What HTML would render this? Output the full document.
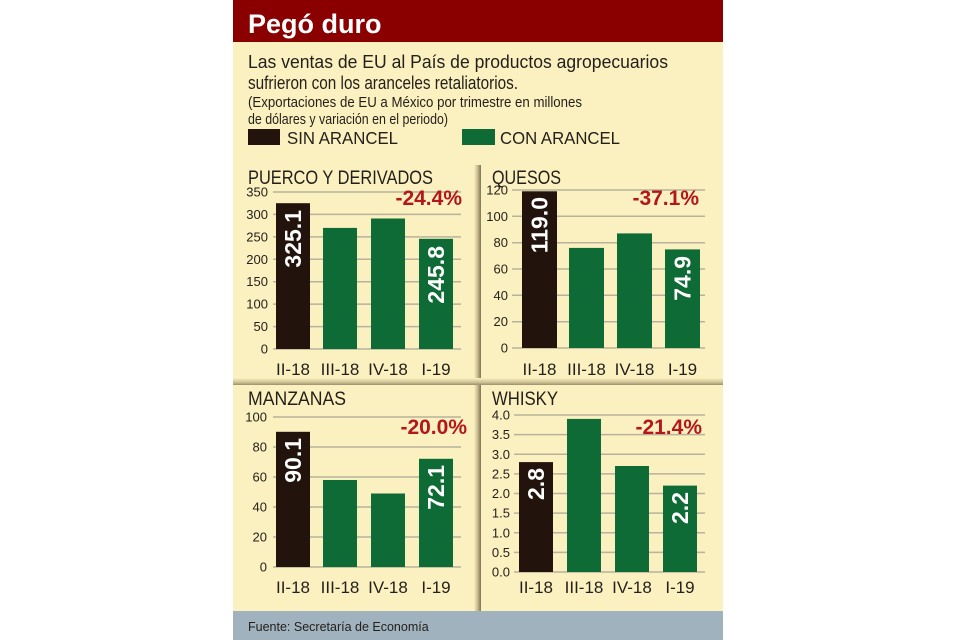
<!DOCTYPE html>
<html><head><meta charset="utf-8"><style>
html,body{margin:0;padding:0;background:#fff;}
svg{display:block;font-family:"Liberation Sans",sans-serif;}
</style></head><body>
<svg width="960" height="640" viewBox="0 0 960 640" xmlns="http://www.w3.org/2000/svg">
<defs>
<linearGradient id="vs" x1="0" x2="1" y1="0" y2="0"><stop offset="0" stop-color="#fbf0c0"/><stop offset="0.5" stop-color="#c9bc8e"/><stop offset="1" stop-color="#7d7458"/></linearGradient>
<linearGradient id="hs" x1="0" x2="0" y1="0" y2="1"><stop offset="0" stop-color="#fbf0c0"/><stop offset="0.6" stop-color="#cfc395"/><stop offset="1" stop-color="#9a8f6d"/></linearGradient>
</defs>
<rect x="0" y="0" width="960" height="640" fill="#fff"/>
<rect x="233" y="0" width="490" height="640" fill="#fbf0c0"/>
<rect x="233" y="0" width="490" height="42" fill="#8a0000"/>
<text x="248" y="33" font-size="27" font-weight="bold" fill="#fff">Pegó duro</text>
<text x="248" y="68" font-size="18.5" fill="#231f1a" textLength="420" lengthAdjust="spacingAndGlyphs">Las ventas de EU al País de productos agropecuarios</text>
<text x="248" y="89" font-size="18.5" fill="#231f1a" textLength="270" lengthAdjust="spacingAndGlyphs">sufrieron con los aranceles retaliatorios.</text>
<text x="248" y="107" font-size="14.5" fill="#231f1a" textLength="334" lengthAdjust="spacingAndGlyphs">(Exportaciones de EU a México por trimestre en millones</text>
<text x="248" y="124" font-size="14.5" fill="#231f1a" textLength="200" lengthAdjust="spacingAndGlyphs">de dólares y variación en el periodo)</text>
<rect x="248" y="129" width="32" height="16" fill="#22130d"/>
<text x="287" y="144" font-size="17.5" fill="#231f1a" textLength="111" lengthAdjust="spacingAndGlyphs">SIN ARANCEL</text>
<rect x="462" y="129" width="33" height="16" fill="#0f6b35"/>
<text x="500" y="144" font-size="17.5" fill="#231f1a" textLength="120" lengthAdjust="spacingAndGlyphs">CON ARANCEL</text>
<!-- separators -->
<rect x="474" y="165" width="7" height="446" fill="url(#vs)"/>
<rect x="233" y="378" width="490" height="7" fill="url(#hs)"/>
<rect x="233" y="611" width="490" height="29" fill="#9fb2bd"/>
<text x="248" y="631" font-size="12.5" fill="#231f1a">Fuente: Secretaría de Economía</text>

<g stroke="#b8b29c" stroke-width="1.5">
<!-- A -->
<line x1="273" x2="461" y1="192" y2="192"/><line x1="273" x2="461" y1="214.4" y2="214.4"/><line x1="273" x2="461" y1="236.9" y2="236.9"/><line x1="273" x2="461" y1="259.3" y2="259.3"/><line x1="273" x2="461" y1="281.7" y2="281.7"/><line x1="273" x2="461" y1="304.1" y2="304.1"/><line x1="273" x2="461" y1="326.6" y2="326.6"/><line x1="273" x2="461" y1="349" y2="349"/>
<!-- B -->
<line x1="512" x2="705" y1="190" y2="190"/><line x1="512" x2="705" y1="216.3" y2="216.3"/><line x1="512" x2="705" y1="242.7" y2="242.7"/><line x1="512" x2="705" y1="269" y2="269"/><line x1="512" x2="705" y1="295.3" y2="295.3"/><line x1="512" x2="705" y1="321.7" y2="321.7"/><line x1="512" x2="705" y1="348" y2="348"/>
<!-- C -->
<line x1="273" x2="461" y1="417" y2="417"/><line x1="273" x2="461" y1="447" y2="447"/><line x1="273" x2="461" y1="477" y2="477"/><line x1="273" x2="461" y1="507" y2="507"/><line x1="273" x2="461" y1="537" y2="537"/><line x1="273" x2="461" y1="567" y2="567"/>
<!-- D -->
<line x1="514" x2="705" y1="415" y2="415"/><line x1="514" x2="705" y1="434.6" y2="434.6"/><line x1="514" x2="705" y1="454.25" y2="454.25"/><line x1="514" x2="705" y1="473.9" y2="473.9"/><line x1="514" x2="705" y1="493.5" y2="493.5"/><line x1="514" x2="705" y1="513.1" y2="513.1"/><line x1="514" x2="705" y1="532.75" y2="532.75"/><line x1="514" x2="705" y1="552.4" y2="552.4"/><line x1="514" x2="705" y1="572" y2="572"/>
</g>

<g fill="#231f1a" font-size="19">
<text x="248" y="184" textLength="185" lengthAdjust="spacingAndGlyphs">PUERCO Y DERIVADOS</text>
<text x="492" y="184" textLength="69" lengthAdjust="spacingAndGlyphs">QUESOS</text>
<text x="248" y="405" textLength="98" lengthAdjust="spacingAndGlyphs">MANZANAS</text>
<text x="492" y="405" textLength="66" lengthAdjust="spacingAndGlyphs">WHISKY</text>
</g>

<g fill="#231f1a" font-size="13" text-anchor="end" dominant-baseline="central">
<text x="268" y="192">350</text><text x="268" y="214.4">300</text><text x="268" y="236.9">250</text><text x="268" y="259.3">200</text><text x="268" y="281.7">150</text><text x="268" y="304.1">100</text><text x="268" y="326.6">50</text><text x="268" y="349">0</text>
<text x="508" y="190">120</text><text x="508" y="216.3">100</text><text x="508" y="242.7">80</text><text x="508" y="269">60</text><text x="508" y="295.3">40</text><text x="508" y="321.7">20</text><text x="508" y="348">0</text>
<text x="267" y="417">100</text><text x="267" y="447">80</text><text x="267" y="477">60</text><text x="267" y="507">40</text><text x="267" y="537">20</text><text x="267" y="567">0</text>
<text x="510" y="415">4.0</text><text x="510" y="434.6">3.5</text><text x="510" y="454.25">3.0</text><text x="510" y="473.9">2.5</text><text x="510" y="493.5">2.0</text><text x="510" y="513.1">1.5</text><text x="510" y="532.75">1.0</text><text x="510" y="552.4">0.5</text><text x="510" y="572">0.0</text>
</g>

<!-- bars -->
<rect x="276" y="203.2" width="34" height="145.8" fill="#22130d"/>
<rect x="323" y="227.9" width="34" height="121.1" fill="#0f6b35"/>
<rect x="371" y="218.5" width="34" height="130.5" fill="#0f6b35"/>
<rect x="419" y="238.8" width="34" height="110.2" fill="#0f6b35"/>

<rect x="522" y="191.3" width="35" height="156.7" fill="#22130d"/>
<rect x="569" y="247.9" width="35" height="100.1" fill="#0f6b35"/>
<rect x="617" y="233.4" width="35" height="114.6" fill="#0f6b35"/>
<rect x="665" y="249.4" width="35" height="98.6" fill="#0f6b35"/>

<rect x="276" y="431.8" width="34" height="135.2" fill="#22130d"/>
<rect x="323" y="480" width="34" height="87" fill="#0f6b35"/>
<rect x="371" y="493.5" width="34" height="73.5" fill="#0f6b35"/>
<rect x="419" y="458.8" width="34" height="108.2" fill="#0f6b35"/>

<rect x="519" y="462.1" width="34" height="109.9" fill="#22130d"/>
<rect x="567" y="418.9" width="34" height="153.1" fill="#0f6b35"/>
<rect x="615" y="466" width="34" height="106" fill="#0f6b35"/>
<rect x="663" y="485.6" width="34" height="86.4" fill="#0f6b35"/>

<g fill="#fff" font-size="23" font-weight="bold" text-anchor="end" dominant-baseline="central">
<text transform="translate(293,210) rotate(-90)">325.1</text>
<text transform="translate(436,246) rotate(-90)">245.8</text>
<text transform="translate(539.5,197) rotate(-90)">119.0</text>
<text transform="translate(682.5,256) rotate(-90)">74.9</text>
<text transform="translate(293,438) rotate(-90)">90.1</text>
<text transform="translate(436,465) rotate(-90)">72.1</text>
<text transform="translate(536,468) rotate(-90)">2.8</text>
<text transform="translate(680,492) rotate(-90)">2.2</text>
</g>

<g fill="#b3161b" font-size="21" font-weight="bold" text-anchor="end">
<text x="462" y="205">-24.4%</text>
<text x="699" y="205">-37.1%</text>
<text x="467" y="434">-20.0%</text>
<text x="702" y="434">-21.4%</text>
</g>

<g fill="#231f1a" font-size="17" text-anchor="middle">
<text x="293" y="375">II-18</text><text x="340" y="375">III-18</text><text x="388" y="375">IV-18</text><text x="436" y="375">I-19</text>
<text x="539.5" y="375">II-18</text><text x="586.5" y="375">III-18</text><text x="634.5" y="375">IV-18</text><text x="682.5" y="375">I-19</text>
<text x="293" y="593">II-18</text><text x="340" y="593">III-18</text><text x="388" y="593">IV-18</text><text x="436" y="593">I-19</text>
<text x="536" y="593">II-18</text><text x="584" y="593">III-18</text><text x="632" y="593">IV-18</text><text x="680" y="593">I-19</text>
</g>
</svg>
</body></html>
